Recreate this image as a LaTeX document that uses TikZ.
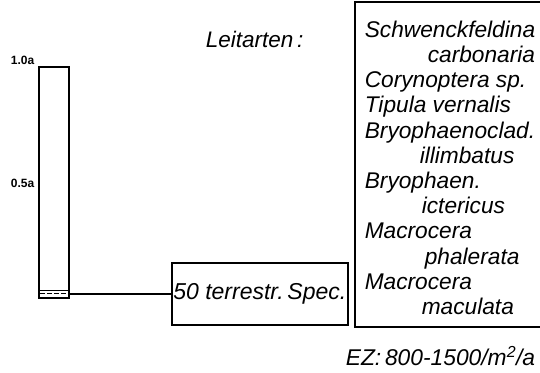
\documentclass[tikz,border=0pt]{standalone}
\usepackage{fontspec}
\setmainfont{Liberation Sans}
\begin{document}
\begin{tikzpicture}[x=1pt,y=-1pt,line width=1.6pt,
  big/.style={font=\fontsize{22.7}{25.2}\selectfont\itshape},
  tick/.style={font=\fontsize{12}{12}\selectfont\bfseries, inner sep=0, anchor=base east}]
\useasboundingbox (0,0) rectangle (540,372);
% bar
\node[draw, minimum width=30pt, minimum height=231pt, inner sep=0, anchor=north west] (bar) at (38,66) {};
\draw[line width=0.7pt] (38,290) -- (68,290);
\draw[line width=0.7pt, dash pattern=on 5pt off 2pt] (40,293.5) -- (66,293.5);
\node[tick] (t10) at (35,64) {1.0a};
\node[tick] (t05) at (35,187) {0.5a};
% spec box
\node[draw, font=\fontsize{23}{23}\selectfont\itshape, minimum width=176pt, minimum height=62pt, inner sep=0, anchor=north west] (spec) at (171,262) {50 terrestr.\,Spec.};
\draw (bar.east |- spec.west) -- (spec.west);
% Leitarten
\node[font=\fontsize{22.5}{22.5}\selectfont\itshape, inner sep=0, anchor=base west] (leit) at (205,47) {Leitarten\,:};
% species box
\draw (540,2) -- (355,2) -- (355,327) -- (540,327);
\node[big, inner sep=0, anchor=north west, align=left] (spp) at (364,20) {%
Schwenckfeldina\\
\hspace*{63pt}carbonaria\\
Corynoptera sp.\\
Tipula vernalis\\
Bryophaenoclad.\\
\hspace*{55pt}illimbatus\\
Bryophaen.\\
\hspace*{57pt}ictericus\\
Macrocera\\
\hspace*{60pt}phalerata\\
Macrocera\\
\hspace*{57pt}maculata};
\node[font=\fontsize{22.8}{22.8}\selectfont\itshape, inner sep=0, anchor=base west] (ez) at (345,365) {EZ:\,800-1500/m\textsuperscript{2}/a};
\end{tikzpicture}
\end{document}
